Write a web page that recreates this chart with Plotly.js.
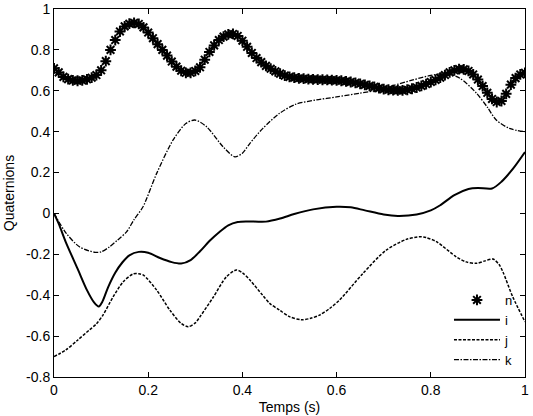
<!DOCTYPE html>
<html>
<head>
<meta charset="utf-8">
<script src="https://cdn.plot.ly/plotly-3.0.1.min.js"></script>
<style>html,body{margin:0;padding:0;background:#fff;}#chart{width:533px;height:416px;}</style>
</head>
<body>
<div id="chart"></div>
<script>
// time grid for n (s)
const tN = [0.00,0.01,0.02,0.03,0.04,0.05,0.06,0.07,0.08,0.09,
  0.10,0.11,0.12,0.13,0.14,0.15,0.16,0.17,0.18,0.19,
  0.20,0.21,0.22,0.23,0.24,0.25,0.26,0.27,0.28,0.29,
  0.30,0.31,0.32,0.33,0.34,0.35,0.36,0.37,0.38,0.39,
  0.40,0.41,0.42,0.43,0.44,0.45,0.46,0.47,0.48,0.49,
  0.50,0.51,0.52,0.53,0.54,0.55,0.56,0.57,0.58,0.59,
  0.60,0.61,0.62,0.63,0.64,0.65,0.66,0.67,0.68,0.69,
  0.70,0.71,0.72,0.73,0.74,0.75,0.76,0.77,0.78,0.79,
  0.80,0.81,0.82,0.83,0.84,0.85,0.86,0.87,0.88,0.89,
  0.90,0.91,0.92,0.93,0.94,0.95,0.96,0.97,0.98,0.99,1.00];
const nVals = [0.710,0.690,0.668,0.657,0.651,0.649,0.651,0.656,0.664,0.677,
  0.700,0.745,0.800,0.848,0.890,0.915,0.928,0.932,0.927,0.910,
  0.885,0.857,0.828,0.800,0.772,0.743,0.718,0.698,0.688,0.688,
  0.697,0.715,0.752,0.790,0.822,0.848,0.865,0.876,0.878,0.868,
  0.845,0.815,0.785,0.760,0.740,0.722,0.708,0.695,0.684,0.674,
  0.668,0.664,0.661,0.659,0.657,0.656,0.655,0.654,0.653,0.652,
  0.651,0.649,0.646,0.643,0.639,0.634,0.629,0.624,0.619,0.613,
  0.608,0.605,0.603,0.602,0.602,0.605,0.610,0.616,0.624,0.633,
  0.643,0.653,0.664,0.677,0.690,0.700,0.706,0.705,0.697,0.680,
  0.655,0.623,0.590,0.560,0.545,0.550,0.585,0.630,0.662,0.680,0.688];

const tI = [0,0.01,0.025,0.05,0.07,0.085,0.095,0.103,0.115,0.13,0.145,0.16,0.18,0.2,0.225,0.25,0.27,0.29,0.31,0.33,0.35,0.37,0.39,0.41,0.45,0.48,0.51,0.55,0.6,0.63,0.66,0.7,0.73,0.77,0.8,0.82,0.85,0.88,0.9,0.93,0.95,0.975,1.0];
const iVals = [0,-0.05,-0.14,-0.27,-0.375,-0.435,-0.455,-0.43,-0.36,-0.29,-0.24,-0.205,-0.188,-0.192,-0.218,-0.238,-0.245,-0.228,-0.185,-0.135,-0.093,-0.058,-0.042,-0.039,-0.04,-0.025,-0.003,0.02,0.033,0.03,0.015,-0.005,-0.012,-0.005,0.015,0.04,0.09,0.12,0.125,0.122,0.155,0.22,0.30];

const tJ = [0,0.025,0.05,0.075,0.09,0.104,0.125,0.147,0.168,0.18,0.19,0.218,0.246,0.27,0.285,0.3,0.31,0.338,0.366,0.387,0.4,0.416,0.443,0.458,0.479,0.5,0.525,0.545,0.564,0.585,0.606,0.656,0.705,0.748,0.776,0.79,0.812,0.854,0.875,0.897,0.915,0.932,0.945,0.953,0.974,1.0];
const jVals = [-0.70,-0.668,-0.62,-0.57,-0.54,-0.497,-0.41,-0.334,-0.296,-0.295,-0.302,-0.375,-0.473,-0.538,-0.554,-0.535,-0.505,-0.41,-0.31,-0.277,-0.29,-0.326,-0.40,-0.44,-0.473,-0.505,-0.52,-0.513,-0.497,-0.465,-0.424,-0.293,-0.18,-0.127,-0.114,-0.118,-0.138,-0.212,-0.237,-0.244,-0.232,-0.223,-0.25,-0.285,-0.408,-0.53];

const tK = [0,0.026,0.054,0.087,0.1,0.118,0.135,0.154,0.17,0.189,0.218,0.253,0.28,0.299,0.324,0.359,0.384,0.4,0.416,0.443,0.479,0.514,0.557,0.6,0.649,0.691,0.72,0.762,0.8,0.834,0.862,0.897,0.92,0.939,0.967,1.0];
const kVals = [0,-0.097,-0.163,-0.19,-0.188,-0.163,-0.13,-0.09,-0.03,0.033,0.196,0.36,0.44,0.457,0.424,0.326,0.277,0.295,0.343,0.415,0.49,0.535,0.555,0.57,0.588,0.604,0.625,0.653,0.675,0.685,0.661,0.588,0.52,0.457,0.416,0.40];

const xTickVals = [0,0.2,0.4,0.6,0.8,1];
const xTickText = ['0','0.2','0.4','0.6','0.8','1'];
const yTickVals = [-0.8,-0.6,-0.4,-0.2,0,0.2,0.4,0.6,0.8,1];
const yTickText = ['-0.8','-0.6','-0.4','-0.2','0','0.2','0.4','0.6','0.8','1'];

const FONT = 'Liberation Sans, Arial, sans-serif';

const traces = [
  {x: tN, y: nVals, name: 'n', mode: 'markers', type: 'scatter',
   marker: {symbol: 'asterisk-open', size: 9, color: '#000', line: {color: '#000', width: 2}}},
  {x: tI, y: iVals, name: 'i', mode: 'lines', type: 'scatter',
   line: {color: '#000', width: 2, shape: 'spline', smoothing: 0.8}},
  {x: tJ, y: jVals, name: 'j', mode: 'lines', type: 'scatter',
   line: {color: '#000', width: 1.5, dash: '3px,1.5px', shape: 'spline', smoothing: 0.8}},
  {x: tK, y: kVals, name: 'k', mode: 'lines', type: 'scatter',
   line: {color: '#000', width: 1.3, dash: '5px,1.5px,1.5px,1.5px', shape: 'spline', smoothing: 0.8}}
];

const axisCommon = {
  showline: true, linecolor: '#000', linewidth: 1, mirror: 'ticks',
  ticks: 'inside', ticklen: 5, tickcolor: '#000', tickwidth: 1,
  showgrid: false, zeroline: false, tickmode: 'array',
  tickfont: {family: FONT, size: 14, color: '#000'}
};

const layout = {
  width: 533, height: 416,
  margin: {l: 54, r: 8, t: 9, b: 39},
  paper_bgcolor: '#fff', plot_bgcolor: '#fff',
  font: {family: FONT, size: 14, color: '#000'},
  showlegend: true,
  legend: {x: 0.8386, y: 0.25, xanchor: 'left', yanchor: 'top', bgcolor: 'rgba(0,0,0,0)',
           borderwidth: 0, itemwidth: 46, font: {family: FONT, size: 13, color: '#000'}, tracegroupgap: 0},
  xaxis: Object.assign({}, axisCommon, {range: [0, 1], tickvals: xTickVals, ticktext: xTickText,
    title: {text: 'Temps (s)', font: {family: FONT, size: 14, color: '#000'}, standoff: 5}}),
  yaxis: Object.assign({}, axisCommon, {range: [-0.8, 1], tickvals: yTickVals, ticktext: yTickText,
    title: {text: 'Quaternions', font: {family: FONT, size: 14, color: '#000'}, standoff: 8}})
};

Plotly.newPlot('chart', traces, layout, {displayModeBar: false, staticPlot: true});
</script>
</body>
</html>
